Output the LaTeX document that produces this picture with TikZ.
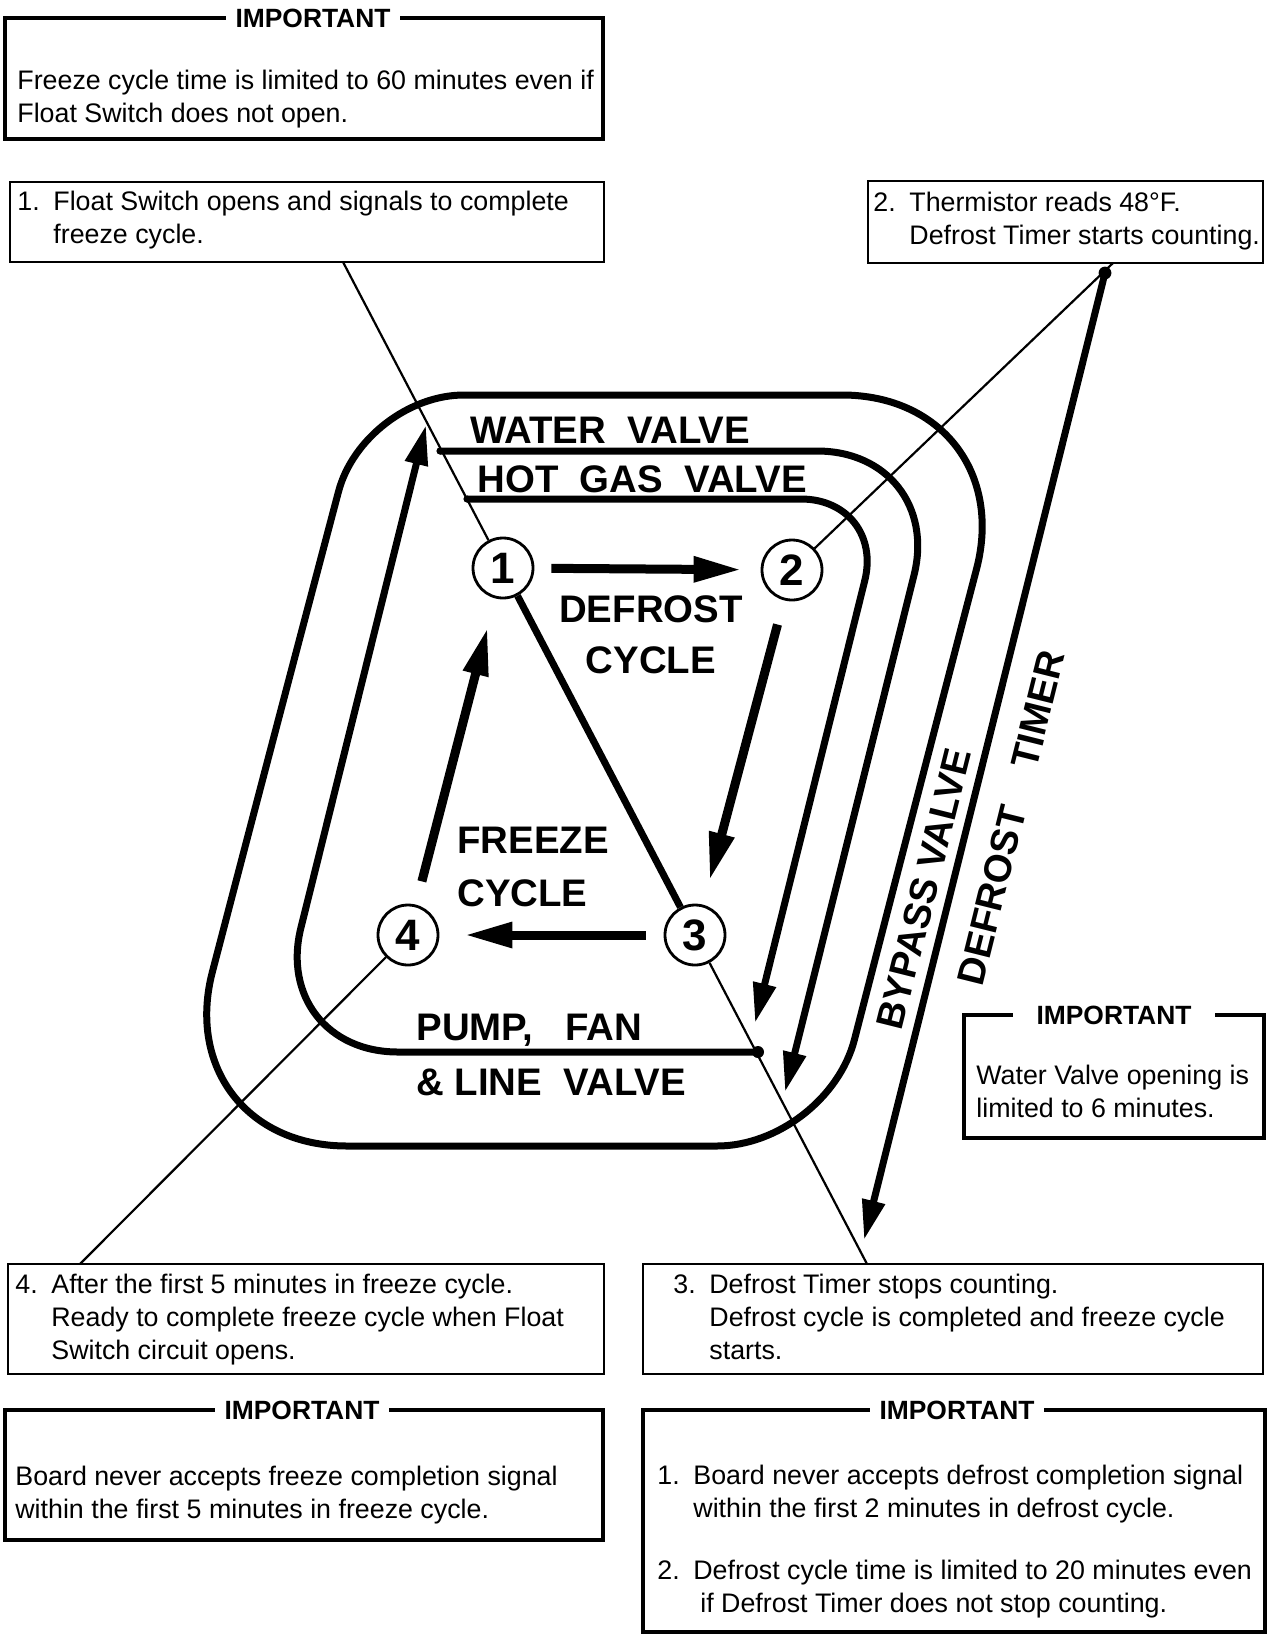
\documentclass[tikz,border=0pt]{standalone}
\usepackage{fontspec}
\setmainfont{Liberation Sans}
\usetikzlibrary{arrows.meta}

\newcommand{\itemno}[1]{\makebox[18pt][l]{#1}}
\newcommand{\contind}{\hspace*{18pt}}

\begin{document}
\begin{tikzpicture}[x=0.5pt,y=-0.5pt,
    body/.style={anchor=base west,align=left,inner sep=0pt,font=\fontsize{13.4}{16.5}\selectfont},
    sign/.style={inner sep=0pt,font=\bfseries\fontsize{19.2}{26}\selectfont},
    warnhead/.style={fill=white,inner xsep=5pt,inner ysep=1pt,font=\bfseries\fontsize{13.2}{16}\selectfont},
    stepno/.style={circle,draw,line width=1.4pt,minimum size=30pt,inner sep=0pt,fill=white,font=\bfseries\fontsize{22}{22}\selectfont},
    wire/.style={line width=3.5pt},
    cyc/.style={line width=4.5pt,-{Triangle[length=24pt,width=12pt]}},
    lead/.style={line width=1.1pt},
    endarrow/.style={-{Triangle[length=20pt,width=11pt]}},
    note/.style={draw,line width=1.1pt},
    warn/.style={draw,line width=2pt}]
\useasboundingbox (0,0) rectangle (1267,1635);

% outer loop (bypass valve)
\coordinate (otl) at (364,395);
\coordinate (otr) at (1022,395);
\coordinate (obr) at (827,1146);
\coordinate (obl) at (167,1146);
\draw[wire] (700,395) [rounded corners=90pt] -- (otr) -- (924,770)
    [rounded corners=55pt] -- (obr) -- (497,1146)
    [rounded corners=90pt] -- (obl) -- (265,770)
    [rounded corners=50pt] -- (otl) -- cycle;

% valve lines
\coordinate (wv) at (440,451);
\coordinate (hg) at (467,499);
\coordinate (pf) at (758,1052);
\coordinate (dd) at (1105,273);
\draw[wire,endarrow,rounded corners=64pt] (wv) -- (945,451) -- (785,1092);
\draw[wire,endarrow,rounded corners=42pt] (hg) -- (885,499) -- (755,1023);
\draw[wire,endarrow,rounded corners=64pt] (pf) -- (270,1052) -- (426,425);

% boxes
\draw[warn] (5,18) rectangle (603,139);
\draw[note] (10,182) rectangle (604,262);
\draw[note] (868,181) rectangle (1263,263);
\draw[note] (8,1264) rectangle (604,1374);
\draw[note] (643,1264) rectangle (1263,1374);
\draw[warn] (5,1410) rectangle (603,1540);
\draw[warn] (643,1410) rectangle (1265,1632);
\draw[warn] (964,1015) rectangle (1264,1138);

\coordinate (f1) at (343,262);
\coordinate (f2) at (1113,263);
\coordinate (f3) at (867,1264);
\coordinate (f4) at (80,1264);
\coordinate (dtip) at (864,1240);

% steps
\node[stepno] (c1) at (503,568) {1};
\node[stepno] (c2) at (792,570) {2};
\node[stepno] (c3) at (695,935) {3};
\node[stepno] (c4) at (408,935) {4};

\draw[lead] (c1) -- (f1);
\draw[lead] (c2) -- (f2);
\draw[lead] (c3) -- (f3);
\draw[lead] (c4) -- (f4);
\draw[wire] (c1) -- (c3);
\draw[wire,endarrow] (dd) -- (dtip);

\draw[cyc,shorten <=8.5pt,shorten >=9.5pt] (c1) -- (c2);
\draw[cyc,shorten <=12.5pt,shorten >=12.5pt] (c2) -- (c3);
\draw[cyc,shorten <=9pt,shorten >=12.5pt] (c3) -- (c4);
\draw[cyc,shorten <=12pt,shorten >=15pt] (c4) -- (c1);

\fill (wv) circle (1.8pt);
\fill (hg) circle (1.8pt);
\fill (pf) circle (3pt);
\fill (dd) circle (3.2pt);

% labels (multi-line nodes sit on their last baseline)
\node[sign,anchor=base west] (lwv) at (470,443) {WATER\ \ VALVE};
\node[sign,anchor=base west] (lhg) at (477,492) {HOT\ \ GAS\ \ VALVE};
\node[sign,anchor=base,align=center,font=\bfseries\fontsize{19.2}{25.5}\selectfont] (ldef) at (651,673) {DEFROST\\CYCLE};
\node[sign,anchor=base west,align=left,font=\bfseries\fontsize{19.2}{26.5}\selectfont] (lfrz) at (457,906) {FREEZE\\CYCLE};
\node[sign,anchor=base west,align=left,font=\bfseries\fontsize{19.2}{27.5}\selectfont] (lpump) at (416,1095) {PUMP,\ \ \ FAN\\\&\ LINE\ \ VALVE};
\node[sign,rotate=76] (lbyp) at (924,889) {BYPASS VALVE};
\node[sign,rotate=76] (ltim) at (1011,818) {DEFROST\hspace{20pt}TIMER};

% texts
\node[warnhead] (h1) at (313,18) {IMPORTANT};
\node[body] (t0) at (17,122) {Freeze cycle time is limited to 60 minutes even if\\Float Switch does not open.};
\node[body] (t1) at (17,243) {\itemno{1.}Float Switch opens and signals to complete\\\contind freeze cycle.};
\node[body] (t2) at (873,244) {\itemno{2.}Thermistor reads 48°F.\\\contind Defrost Timer starts counting.};
\node[body] (t4) at (15,1359) {\itemno{4.}After the first 5 minutes in freeze cycle.\\\contind Ready to complete freeze cycle when Float\\\contind Switch circuit opens.};
\node[body] (t3) at (673,1359) {\itemno{3.}Defrost Timer stops counting.\\\contind Defrost cycle is completed and freeze cycle\\\contind starts.};
\node[warnhead] (h4) at (302,1410) {IMPORTANT};
\node[body] (t5) at (15,1518) {Board never accepts freeze completion signal\\within the first 5 minutes in freeze cycle.};
\node[warnhead] (h3) at (957,1410) {IMPORTANT};
\node[body] (t6) at (657,1517) {\itemno{1.}Board never accepts defrost completion signal\\\contind within the first 2 minutes in defrost cycle.};
\node[body] (t7) at (657,1612) {\itemno{2.}Defrost cycle time is limited to 20 minutes even\\\hspace*{21.5pt}if Defrost Timer does not stop counting.};
\node[warnhead,inner xsep=12pt] (h2) at (1114,1015) {IMPORTANT};
\node[body] (t8) at (976,1117) {Water Valve opening is\\limited to 6 minutes.};
\end{tikzpicture}
\end{document}
